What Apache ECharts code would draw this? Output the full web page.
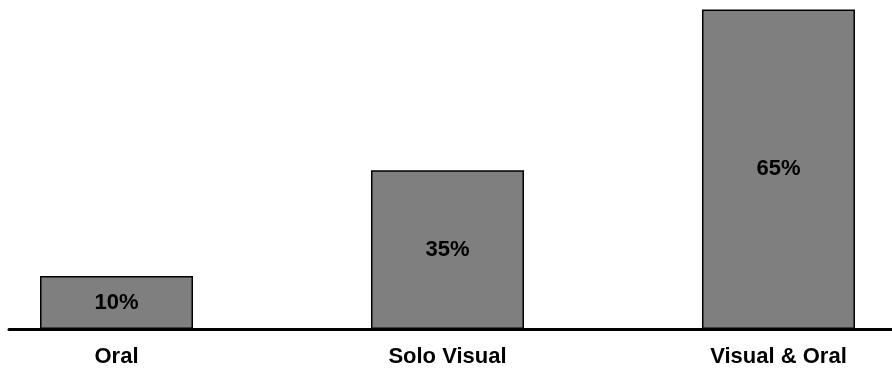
<!DOCTYPE html>
<html lang="en">
<head>
    <meta charset="UTF-8">
    <title>Oral / Visual bar chart</title>
    <script type="text/javascript" src="https://cdn.jsdelivr.net/npm/echarts@6/dist/echarts.min.js"></script>
    <style>
        html, body { margin: 0; padding: 0; background: #fff; }
    </style>
</head>
<body>
<div id="chart" style="width:892px;height:369px;"></div>
<script type="text/javascript">
    // categories and values
    var categories = ['Oral', 'Solo Visual', 'Visual & Oral'];
    var shares = [10, 35, 65];            // printed on the bars
    var barHeights = [10.8, 32.3, 65];    // bar heights as drawn in the picture

    var myChart = echarts.init(document.getElementById('chart'));

    // bars sit at 0, 1, 2 on a value axis so the slots can run past the left edge
    var barData = barHeights.map(function (h, i) { return [i, h]; });

    var labelFont = {
        color: '#000',
        fontFamily: 'Liberation Sans, Arial, sans-serif',
        fontWeight: 'bold',
        fontSize: 22
    };

    var option = {
        animation: false,
        grid: [
            {left: 0, right: 0, top: 9.5, bottom: 40},
            // base line only
            {left: 9, right: 0, top: 9.5, bottom: 40}
        ],
        xAxis: [{
            type: 'value',
            gridIndex: 0,
            min: -0.352,
            max: 2.343,
            splitLine: {show: false},
            axisLine: {show: false},
            axisTick: {show: false},
            axisLabel: Object.assign({
                margin: 17,
                customValues: [0, 1, 2],
                formatter: function (v) {
                    return categories[Math.round(v)];
                }
            }, labelFont)
        }, {
            type: 'value',
            gridIndex: 1,
            min: 0,
            max: 1,
            splitLine: {show: false},
            axisTick: {show: false},
            axisLabel: {show: false},
            axisLine: {show: true, lineStyle: {color: '#000', width: 3}}
        }],
        yAxis: [{
            type: 'value',
            gridIndex: 0,
            min: 0,
            max: 65,
            show: false
        }, {
            type: 'value',
            gridIndex: 1,
            show: false
        }],
        series: [{
            type: 'bar',
            xAxisIndex: 0,
            yAxisIndex: 0,
            barWidth: 153,
            data: barData,
            itemStyle: {
                color: '#7f7f7f',
                borderColor: '#000',
                borderWidth: 1.5
            },
            label: Object.assign({
                show: true,
                position: 'inside',
                formatter: function (p) {
                    return shares[p.dataIndex] + '%';
                }
            }, labelFont)
        }]
    };
    myChart.setOption(option);
</script>
</body>
</html>
